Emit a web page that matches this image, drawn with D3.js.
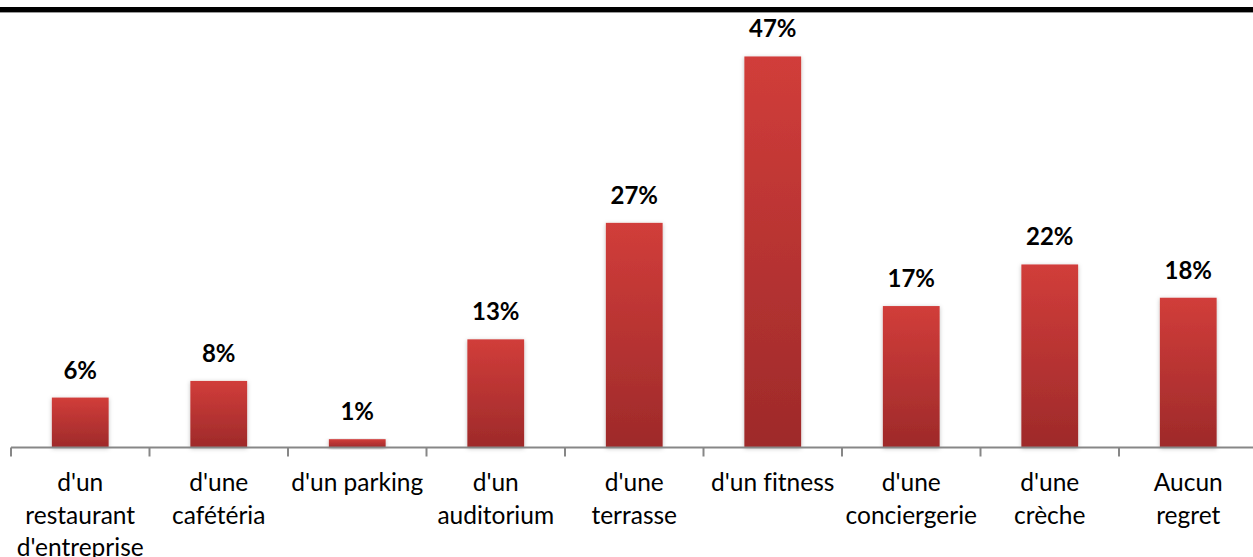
<!DOCTYPE html>
<html>
<head>
<meta charset="utf-8">
<script src="https://cdn.jsdelivr.net/npm/d3@7"></script>
<style>
  html, body { margin: 0; padding: 0; background: #ffffff; }
  svg { display: block; }
  .val { font-family: Lato, "Open Sans", sans-serif; font-weight: 700; font-size: 24px; fill: #000; }
  .cat { font-family: Lato, "Open Sans", sans-serif; font-size: 24.5px; fill: #000; font-variant-ligatures: none; }
</style>
</head>
<body>
<svg id="chart" width="1253" height="557"></svg>
<script>
// Regret answers: share of respondents per missing facility
const categories = [
  "d'un restaurant d'entreprise",
  "d'une cafétéria",
  "d'un parking",
  "d'un auditorium",
  "d'une terrasse",
  "d'un fitness",
  "d'une conciergerie",
  "d'une crèche",
  "Aucun regret"
];
const categoryLines = [
  ["d'un", "restaurant", "d'entreprise"],
  ["d'une", "cafétéria"],
  ["d'un parking"],
  ["d'un", "auditorium"],
  ["d'une", "terrasse"],
  ["d'un fitness"],
  ["d'une", "conciergerie"],
  ["d'une", "crèche"],
  ["Aucun", "regret"]
];
const values = [6, 8, 1, 13, 27, 47, 17, 22, 18];

const W = 1253, H = 557;
const svg = d3.select("#chart");

const x = d3.scaleBand()
  .domain(categories)
  .range([11, 11 + 9 * 138.5])
  .paddingInner(0.59)
  .paddingOuter(0.295);

const y = d3.scaleLinear().domain([0, 50]).range([447.5, 31.5]);

// Bar fill: lighter red at the top, darker red at the base
const defs = svg.append("defs");
const grad = defs.append("linearGradient")
  .attr("id", "barFill")
  .attr("x1", 0).attr("y1", 0).attr("x2", 0).attr("y2", 1);
grad.append("stop").attr("offset", "0%").attr("stop-color", "#d13d3a");
grad.append("stop").attr("offset", "100%").attr("stop-color", "#9e2a2a");

const shadow = defs.append("filter")
  .attr("id", "barShadow")
  .attr("x", "-30%").attr("y", "-10%").attr("width", "160%").attr("height", "130%");
shadow.append("feDropShadow")
  .attr("dx", 0).attr("dy", 1)
  .attr("stdDeviation", 2)
  .attr("flood-color", "#000")
  .attr("flood-opacity", 0.25);

// Heavy rule across the top
svg.append("rect").attr("x", 0).attr("y", 7).attr("width", W).attr("height", 5).attr("fill", "#000");
svg.append("rect").attr("x", 0).attr("y", 12).attr("width", W).attr("height", 1).attr("fill", "#9a9a9a");

// Bars
svg.append("g")
  .selectAll("rect")
  .data(values)
  .join("rect")
  .attr("x", (d, i) => x(categories[i]))
  .attr("width", x.bandwidth())
  .attr("y", d => y(d))
  .attr("height", d => y(0) - y(d))
  .attr("fill", "url(#barFill)")
  .attr("filter", "url(#barShadow)");

// Category axis with ticks between the bars
const boundaries = d3.range(categories.length + 1).map(i => x.range()[0] + i * x.step());
const axis = svg.append("g");
axis.append("line")
  .attr("x1", boundaries[0]).attr("x2", W)
  .attr("y1", y(0)).attr("y2", y(0))
  .attr("stroke", "#878787").attr("stroke-width", 2);
axis.selectAll("line.tick")
  .data(boundaries)
  .join("line")
  .attr("class", "tick")
  .attr("x1", d => d).attr("x2", d => d)
  .attr("y1", y(0)).attr("y2", y(0) + 9)
  .attr("stroke", "#878787").attr("stroke-width", 2);

// Value labels above each bar
svg.append("g")
  .selectAll("text")
  .data(values)
  .join("text")
  .attr("class", "val")
  .attr("text-anchor", "middle")
  .attr("x", (d, i) => x(categories[i]) + x.bandwidth() / 2)
  .attr("y", d => y(d) - 19)
  .text(d => d + "%");

// Category labels, wrapped on several lines
const catG = svg.append("g");
categoryLines.forEach((lines, i) => {
  const t = catG.append("text")
    .attr("class", "cat")
    .attr("text-anchor", "middle")
    .attr("x", x(categories[i]) + x.bandwidth() / 2)
    .attr("y", 491);
  lines.forEach((ln, j) => {
    t.append("tspan")
      .attr("x", x(categories[i]) + x.bandwidth() / 2)
      .attr("dy", j === 0 ? 0 : 32.5)
      .text(ln);
  });
});
</script>
</body>
</html>
